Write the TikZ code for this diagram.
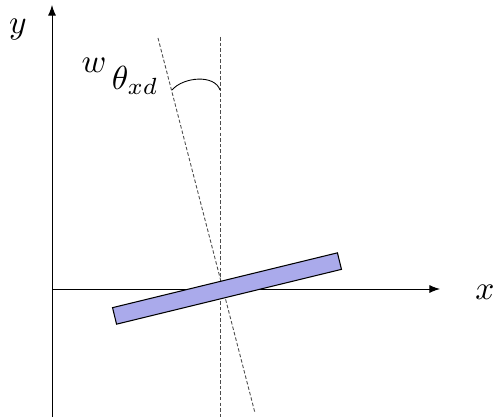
\documentclass[tikz,border=0pt]{standalone}
\usetikzlibrary{arrows.meta}
\definecolor{barfill}{RGB}{170,170,235}
\tikzset{
  axis/.style={line width=0.5pt,-{Latex[length=6pt,width=4.5pt]}},
  guide/.style={black!70,line width=0.5pt,dash pattern=on 2pt off 1.2pt},
  bar/.style={draw=black,fill=barfill,line width=0.6pt,minimum width=4.63cm,minimum height=0.34cm,inner sep=0pt,rotate=13.7},
  lbl/.style={scale=1.9}
}
\begin{document}
\begin{tikzpicture}
    \useasboundingbox (-1.04,-2.56) rectangle (8.9,5.78);
    % Axes
    \coordinate (ybot) at (0,-2.56);
    \coordinate (ytop) at (0,5.68);
    \coordinate (xleft) at (0,0);
    \coordinate (xright) at (7.76,0);
    \draw[axis] (ybot) -- (ytop);
    \draw[axis] (xleft) -- (xright);
    \node[lbl] (ylabel) at (-0.68,5.18) {$y$};
    \node[lbl] (xlabel) at (8.66,-0.06) {$x$};
    % Dashed guides
    \coordinate (vtop) at (3.36,5.04);
    \coordinate (vbot) at (3.36,-2.56);
    \coordinate (ttop) at (2.12,5.02);
    \coordinate (tbot) at (4.06,-2.48);
    \draw[guide] (vtop) -- (vbot);
    \draw[guide] (ttop) -- (tbot);
    % Angle mark
    \coordinate (arcl) at (2.4,3.98);
    \coordinate (arcr) at (3.36,3.98);
    \draw[line width=0.5pt] (arcl) .. controls (2.62,4.24) and (3.25,4.3) .. (arcr);
    \node[lbl] (anglelabel) at (1.36,4.25) {\raisebox{5pt}{$w$}\,$\theta_{xd}$};
    % Tilted bar
    \node[bar] (plate) at (3.5,0.01) {};
\end{tikzpicture}
\end{document}
